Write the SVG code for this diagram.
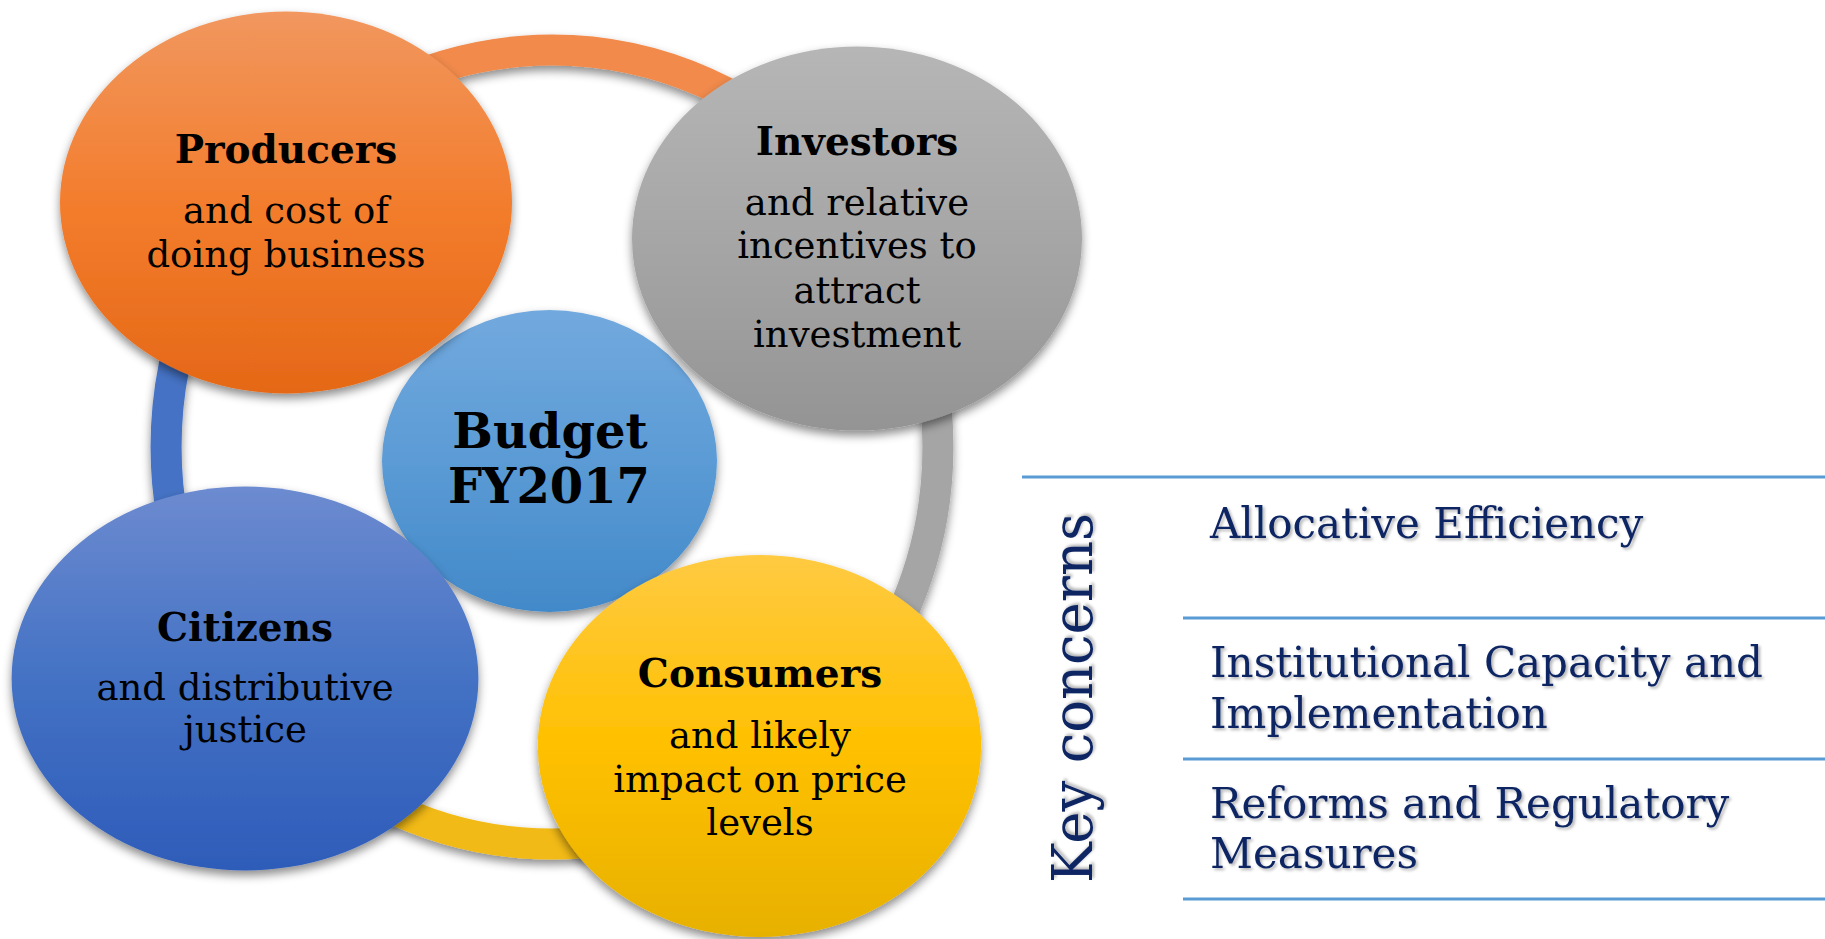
<svg xmlns="http://www.w3.org/2000/svg" width="1825" height="939" viewBox="0 0 1825 939">
<style>
  .title { font-family: "DejaVu Serif", "Liberation Serif", serif; font-weight: bold; font-size: 39px; fill: #000; text-anchor: middle; }
  .body { font-family: "DejaVu Serif", "Liberation Serif", serif; font-size: 37px; fill: #000; text-anchor: middle; }
  .center { font-family: "DejaVu Serif", "Liberation Serif", serif; font-weight: bold; font-size: 48px; fill: #000; text-anchor: middle; }
  .concern { font-family: "DejaVu Serif", "Liberation Serif", serif; font-size: 42px; fill: #0F2663; }
  .key { font-family: "DejaVu Serif", "Liberation Serif", serif; font-size: 56px; fill: #0F2663; }
  .rule { stroke: #5B9BD5; stroke-width: 3; fill: none; }
  .ring { fill: none; stroke-width: 31; }
</style>
<defs>
  <filter id="shadow" x="-20%" y="-20%" width="140%" height="140%">
    <feDropShadow dx="0" dy="5" stdDeviation="5" flood-color="#000" flood-opacity="0.45"/>
  </filter>
  <filter id="tshadow" x="-5%" y="-20%" width="110%" height="150%">
    <feDropShadow dx="2" dy="2" stdDeviation="1.5" flood-color="#000" flood-opacity="0.3"/>
  </filter>
  <linearGradient id="gOrange" x1="0" y1="0" x2="0" y2="1">
    <stop offset="0" stop-color="#F1975F"/>
    <stop offset="0.5" stop-color="#F37D2D"/>
    <stop offset="1" stop-color="#E56817"/>
  </linearGradient>
  <linearGradient id="gGray" x1="0" y1="0" x2="0" y2="1">
    <stop offset="0" stop-color="#B6B6B6"/>
    <stop offset="0.5" stop-color="#A6A6A6"/>
    <stop offset="1" stop-color="#949494"/>
  </linearGradient>
  <linearGradient id="gBlue" x1="0" y1="0" x2="0" y2="1">
    <stop offset="0" stop-color="#6D8BD0"/>
    <stop offset="0.5" stop-color="#4472C4"/>
    <stop offset="1" stop-color="#2E5CB9"/>
  </linearGradient>
  <linearGradient id="gYellow" x1="0" y1="0" x2="0" y2="1">
    <stop offset="0" stop-color="#FFCA42"/>
    <stop offset="0.5" stop-color="#FFC000"/>
    <stop offset="1" stop-color="#E7B100"/>
  </linearGradient>
  <linearGradient id="gCenter" x1="0" y1="0" x2="0" y2="1">
    <stop offset="0" stop-color="#72A9DE"/>
    <stop offset="0.5" stop-color="#5B9BD5"/>
    <stop offset="1" stop-color="#4289C9"/>
  </linearGradient>
</defs>

<g id="connectors" filter="url(#shadow)">
  <path class="ring" stroke="#F18A4C" d="M 279.1 166.3 A 386 397 0 0 1 824.9 166.3"/>
  <path class="ring" stroke="#A5A5A5" d="M 824.9 166.3 A 386 397 0 0 1 824.9 727.7"/>
  <path class="ring" stroke="#F2BA14" d="M 824.9 727.7 A 386 397 0 0 1 279.1 727.7"/>
  <path class="ring" stroke="#4472C4" d="M 279.1 727.7 A 386 397 0 0 1 279.1 166.3"/>
</g>

<g id="budget">
  <ellipse cx="549.5" cy="461" rx="167.5" ry="151" fill="url(#gCenter)" filter="url(#shadow)"/>
  <text class="center" x="550" y="448">Budget</text>
  <text class="center" x="549" y="503">FY2017</text>
</g>

<g id="producers">
  <ellipse cx="286" cy="202.5" rx="226" ry="191" fill="url(#gOrange)" filter="url(#shadow)"/>
  <text class="title" x="286" y="163">Producers</text>
  <text class="body" x="286" y="223">and cost of</text>
  <text class="body" x="286" y="267">doing business</text>
</g>

<g id="investors">
  <ellipse cx="857" cy="238.6" rx="225" ry="192" fill="url(#gGray)" filter="url(#shadow)"/>
  <text class="title" x="857" y="155">Investors</text>
  <text class="body" x="857" y="215">and relative</text>
  <text class="body" x="857" y="258">incentives to</text>
  <text class="body" x="857" y="303">attract</text>
  <text class="body" x="857" y="347">investment</text>
</g>

<g id="citizens">
  <ellipse cx="245" cy="678.5" rx="233.4" ry="192" fill="url(#gBlue)" filter="url(#shadow)"/>
  <text class="title" x="245" y="641">Citizens</text>
  <text class="body" x="245" y="700">and distributive</text>
  <text class="body" x="245" y="742">justice</text>
</g>

<g id="consumers">
  <ellipse cx="759.5" cy="746" rx="221.7" ry="191" fill="url(#gYellow)" filter="url(#shadow)"/>
  <text class="title" x="760" y="687">Consumers</text>
  <text class="body" x="760" y="748">and likely</text>
  <text class="body" x="760" y="792">impact on price</text>
  <text class="body" x="760" y="835">levels</text>
</g>

<g id="key-concerns">
  <line class="rule" x1="1022" y1="477" x2="1825" y2="477"/>
  <line class="rule" x1="1183" y1="618" x2="1825" y2="618"/>
  <line class="rule" x1="1183" y1="759" x2="1825" y2="759"/>
  <line class="rule" x1="1183" y1="899" x2="1825" y2="899"/>
  <text class="key" transform="translate(1092,883) rotate(-90)" textLength="370" lengthAdjust="spacingAndGlyphs" filter="url(#tshadow)">Key concerns</text>
  <g filter="url(#tshadow)">
    <text class="concern" x="1210" y="538">Allocative Efficiency</text>
    <text class="concern" x="1210" y="677">Institutional Capacity and</text>
    <text class="concern" x="1210" y="728">Implementation</text>
    <text class="concern" x="1210" y="818">Reforms and Regulatory</text>
    <text class="concern" x="1210" y="868">Measures</text>
  </g>
</g>
</svg>
